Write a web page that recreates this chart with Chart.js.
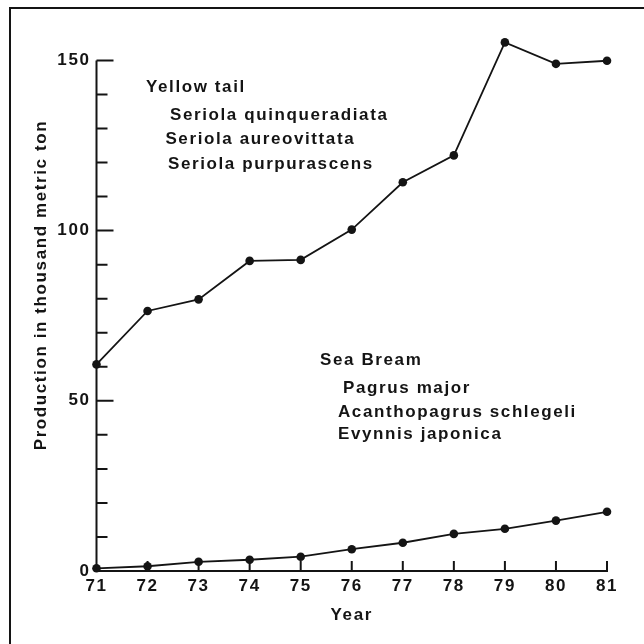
<!DOCTYPE html>
<html>
<head>
<meta charset="utf-8">
<script src="https://cdn.jsdelivr.net/npm/chart.js@4/dist/chart.umd.min.js"></script>
<style>
  html, body { margin: 0; padding: 0; background: #fff; }
  #wrap { width: 644px; height: 644px; position: relative; }
</style>
</head>
<body>
<div id="wrap"><canvas id="c" width="644" height="644"></canvas></div>
<script>
// ---- data ----
const years = [71, 72, 73, 74, 75, 76, 77, 78, 79, 80, 81];
const yellowTail = [60.7, 76.4, 79.8, 91.1, 91.4, 100.3, 114.2, 122.1, 155.3, 149.0, 149.9];
const seaBream = [0.8, 1.4, 2.7, 3.3, 4.2, 6.4, 8.3, 10.9, 12.4, 14.8, 17.4];
const yMajorLabels = [0, 50, 100, 150];
const yAxisTop = 150;      // drawn axis ends at the last labelled tick
const yRangeMax = 156;     // room above the axis for the 1979 point
const xTitle = 'Year';
const yTitle = 'Production in thousand metric ton';
const yellowTailNotes = ['Yellow tail', 'Seriola quinqueradiata', 'Seriola aureovittata', 'Seriola purpurascens'];
const seaBreamNotes = ['Sea Bream', 'Pagrus major', 'Acanthopagrus schlegeli', 'Evynnis japonica'];
// anchor positions for the notes, in data units (year, value)
const yellowTailNoteAt = [[71.97, 142.0], [72.44, 133.9], [72.35, 126.7], [72.40, 119.5]];
const seaBreamNoteAt = [[75.38, 62.0], [75.83, 53.7], [75.73, 46.7], [75.73, 40.1]];

const INK = '#141414';
const FONT = '"Liberation Sans", Arial, sans-serif';
const FSIZE = 17;
const SPACING = '1.6px';

const spacingPlugin = {
  id: 'spacing',
  beforeUpdate(chart) { chart.ctx.letterSpacing = SPACING; },
  beforeLayout(chart) { chart.ctx.letterSpacing = SPACING; },
  beforeDraw(chart) {
    const ctx = chart.ctx;
    ctx.letterSpacing = SPACING;
    // page frame
    ctx.save();
    ctx.strokeStyle = INK;
    ctx.lineWidth = 2;
    ctx.beginPath();
    ctx.moveTo(10, 644);
    ctx.lineTo(10, 8);
    ctx.lineTo(644, 8);
    ctx.stroke();
    ctx.restore();
  }
};

const ticksPlugin = {
  id: 'inTicks',
  afterDraw(chart) {
    const ctx = chart.ctx;
    const xs = chart.scales.x, ys = chart.scales.y;
    const x0 = xs.getPixelForValue(xs.min);
    const y0 = ys.getPixelForValue(0);
    ctx.save();
    ctx.strokeStyle = INK;
    ctx.lineWidth = 2;
    ctx.beginPath();
    // y axis line, 0 .. 150
    ctx.moveTo(x0, y0);
    ctx.lineTo(x0, ys.getPixelForValue(yAxisTop));
    ys.ticks.forEach(t => {
      if (t.value === 0 || t.value > yAxisTop) return;
      const py = ys.getPixelForValue(t.value);
      const len = yMajorLabels.includes(t.value) ? 17 : 11;
      ctx.moveTo(x0, py);
      ctx.lineTo(x0 + len, py);
    });
    xs.ticks.forEach(t => {
      if (t.value === xs.min) return;
      const px = xs.getPixelForValue(t.value);
      ctx.moveTo(px, y0);
      ctx.lineTo(px, y0 - 10);
    });
    ctx.stroke();

    // notes
    ctx.letterSpacing = SPACING;
    ctx.fillStyle = INK;
    ctx.font = 'bold ' + FSIZE + 'px ' + FONT;
    ctx.textAlign = 'left';
    ctx.textBaseline = 'middle';
    const put = (texts, at) => texts.forEach((s, i) => {
      ctx.fillText(s, xs.getPixelForValue(at[i][0]), ys.getPixelForValue(at[i][1]));
    });
    put(yellowTailNotes, yellowTailNoteAt);
    put(seaBreamNotes, seaBreamNoteAt);

    // y title
    ctx.textAlign = 'center';
    ctx.translate(41, ys.getPixelForValue(84));
    ctx.rotate(-Math.PI / 2);
    ctx.fillText(yTitle, 0, 0);
    ctx.restore();
  }
};

const mk = (vals) => years.map((y, i) => ({ x: y, y: vals[i] }));
const common = {
  borderColor: INK, backgroundColor: INK, borderWidth: 1.8,
  pointRadius: 4.3, pointHoverRadius: 4.3, pointBorderWidth: 0,
  pointBackgroundColor: INK, tension: 0, clip: false
};

new Chart(document.getElementById('c'), {
  type: 'line',
  data: {
    datasets: [
      Object.assign({ label: 'Yellow tail', data: mk(yellowTail) }, common),
      Object.assign({ label: 'Sea Bream', data: mk(seaBream) }, common)
    ]
  },
  options: {
    responsive: false,
    animation: false,
    events: [],
    layout: { padding: { left: 20, top: 40, right: 37, bottom: 10 } },
    plugins: { legend: { display: false }, tooltip: { enabled: false } },
    scales: {
      x: {
        type: 'linear', min: 71, max: 81,
        grid: { display: false, drawTicks: false },
        border: { display: true, color: INK, width: 2 },
        afterFit(s) { s.height = 63; },
        ticks: {
          stepSize: 1, padding: 5, color: INK, maxRotation: 0, autoSkip: false,
          font: { family: FONT, size: FSIZE, weight: 'bold' },
          callback: v => String(v)
        },
        title: {
          display: true, text: xTitle, color: INK,
          font: { family: FONT, size: FSIZE, weight: 'bold' },
          padding: { top: 0, bottom: 8 }
        }
      },
      y: {
        min: 0, max: yRangeMax,
        grid: { display: false, drawTicks: false },
        border: { display: false },
        afterFit(s) { s.width = 76.5; },
        ticks: {
          stepSize: 10, padding: 6, color: INK, autoSkip: false, includeBounds: false,
          font: { family: FONT, size: FSIZE, weight: 'bold' },
          callback: v => yMajorLabels.includes(v) ? String(v) : ''
        },
        title: { display: false }
      }
    }
  },
  plugins: [spacingPlugin, ticksPlugin]
});
</script>
</body>
</html>
